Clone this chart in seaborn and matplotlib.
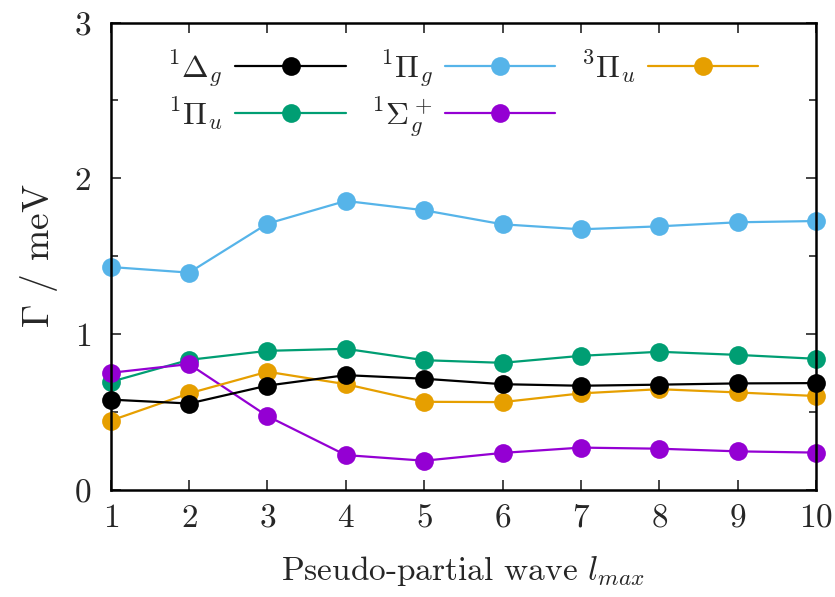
import numpy as np
import pandas as pd
import seaborn as sns
import matplotlib
matplotlib.use("Agg")
import matplotlib.pyplot as plt

# data
lmax = [1, 2, 3, 4, 5, 6, 7, 8, 9, 10]
delta_g1 = [0.58, 0.555, 0.67, 0.737, 0.714, 0.679, 0.669, 0.676, 0.684, 0.686]
pi_u1 = [0.694, 0.835, 0.893, 0.906, 0.833, 0.816, 0.861, 0.887, 0.867, 0.842]
pi_g1 = [1.431, 1.395, 1.709, 1.855, 1.795, 1.705, 1.673, 1.692, 1.718, 1.726]
sigma_g1 = [0.752, 0.808, 0.474, 0.224, 0.188, 0.238, 0.272, 0.265, 0.248, 0.24]
pi_u3 = [0.445, 0.62, 0.759, 0.679, 0.566, 0.564, 0.62, 0.647, 0.626, 0.603]

labels = [r"$^1\Delta_g$", r"$^1\Pi_u$", r"$^1\Pi_g$", r"$^1\Sigma_g^+$", r"$^3\Pi_u$"]
series = [delta_g1, pi_u1, pi_g1, sigma_g1, pi_u3]
colors = ["#000000", "#009e73", "#56b4e9", "#9400d3", "#e69f00"]

sns.set_theme(style="ticks")
plt.rcParams["font.family"] = ["cmr10", "DejaVu Serif"]
plt.rcParams["mathtext.fontset"] = "cm"
plt.rcParams["axes.formatter.use_mathtext"] = True
plt.rcParams["axes.unicode_minus"] = False

fig = plt.figure(figsize=(8.35, 5.97), dpi=100)
ax = fig.add_axes([110.7 / 835, 1 - 490 / 597, 705.3 / 835, 467.5 / 597])

# draw order: blue first, then green, purple, orange, black on top-ish
draw_order = [2, 1, 3, 4, 0]
for i in draw_order:
    sns.lineplot(x=lmax, y=series[i], ax=ax, color=colors[i], marker="o",
                 markersize=13.5, markeredgewidth=0, linewidth=1.6,
                 label=labels[i], clip_on=False)
h, l = ax.get_legend_handles_labels()
lookup = dict(zip(l, h))
ax.legend([lookup[t] for t in labels], labels, loc="upper left",
          bbox_to_anchor=(0.062, 0.972), ncol=3, markerfirst=False, frameon=False,
          fontsize=23, handlelength=3.45, handletextpad=0.4, columnspacing=0.8,
          labelspacing=0.18, borderaxespad=0)

ax.set_xlim(1, 10)
ax.set_ylim(0, 3)
ax.set_xticks(lmax)
ax.set_yticks([0, 1, 2, 3])
ax.set_yticks([0.5, 1.5, 2.5], minor=True)
ax.tick_params(axis="both", which="both", direction="in", top=True, right=True,
               labelsize=24, width=1.2)
ax.tick_params(axis="x", pad=10)
ax.tick_params(axis="y", pad=14)
ax.tick_params(which="major", length=7)
ax.tick_params(which="minor", length=5)
for s in ax.spines.values():
    s.set_linewidth(1.8)
    s.set_color("black")

ax.set_xlabel(r"Pseudo-partial wave $l_{max}$", fontsize=24, labelpad=15)
ax.set_ylabel(r"$\Gamma$ / meV", fontsize=27, labelpad=10)

fig.savefig("out.png", dpi=100)
